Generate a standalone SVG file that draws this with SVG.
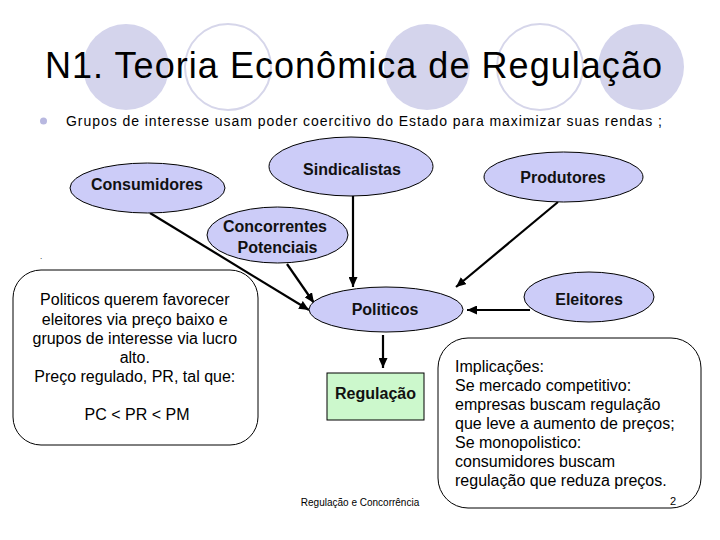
<svg xmlns="http://www.w3.org/2000/svg" width="720" height="540" viewBox="0 0 720 540">
<defs>
<style>
.deco-fill{fill:#D4D4EC;stroke:none}
.deco-ring{fill:none;stroke:#D6D6EA;stroke-width:2}
.node{fill:#CCCCF8;stroke:#000;stroke-width:1}
.reg{fill:#CCF8CC;stroke:#000;stroke-width:1}
.box{fill:#fff;stroke:#000;stroke-width:1}
.lbl{font-family:"Liberation Sans",Arial,sans-serif;font-size:16px;font-weight:bold;fill:#111;text-anchor:middle}
.body{font-family:"Liberation Sans",Arial,sans-serif;font-size:16px;fill:#000}
.conn{stroke:#000;stroke-width:2.2;fill:none}
</style>
<marker id="ah" markerUnits="userSpaceOnUse" markerWidth="11" markerHeight="9" refX="10" refY="4.5" orient="auto">
<path d="M0,0 L10,4.5 L0,9 z" fill="#000"/>
</marker>
</defs>
<rect width="720" height="540" fill="#fff"/>
<g id="decoration">
<circle class="deco-fill" cx="126" cy="67" r="43"/>
<circle class="deco-ring" cx="228" cy="67" r="43"/>
<circle class="deco-fill" cx="427" cy="67" r="43"/>
<circle class="deco-ring" cx="540" cy="67" r="43"/>
<circle class="deco-fill" cx="641" cy="67" r="43"/>
</g>
<text x="45" y="78" font-family="Liberation Sans, Arial, sans-serif" font-size="36" textLength="617" fill="#000">N1. Teoria Econômica de Regulação</text>
<circle cx="43.5" cy="121" r="3.5" fill="#B8B8E0"/>
<text x="66" y="126" font-family="Liberation Sans, Arial, sans-serif" font-size="14" textLength="596" fill="#000">Grupos de interesse usam poder coercitivo do Estado para maximizar suas rendas ;</text>
<g id="connectors">
<line class="conn" x1="150" y1="213" x2="309" y2="310" marker-end="url(#ah)"/>
<line class="conn" x1="287" y1="264" x2="314" y2="303" marker-end="url(#ah)"/>
<line class="conn" x1="353" y1="196" x2="353" y2="287" marker-end="url(#ah)"/>
<line class="conn" x1="558" y1="202" x2="456" y2="287" marker-end="url(#ah)"/>
<line class="conn" x1="530" y1="310" x2="467" y2="310" marker-end="url(#ah)"/>
<line class="conn" x1="383" y1="335" x2="383" y2="368" marker-end="url(#ah)"/>
</g>
<g id="consumidores">
<ellipse class="node" cx="147.5" cy="188" rx="77.5" ry="25"/>
<text class="lbl" x="147" y="190">Consumidores</text>
</g>
<g id="sindicalistas">
<ellipse class="node" cx="351" cy="166.5" rx="82" ry="29.5"/>
<text class="lbl" x="352" y="175">Sindicalistas</text>
</g>
<g id="concorrentes">
<ellipse class="node" cx="277.5" cy="235" rx="70.5" ry="28"/>
<text class="lbl" x="275" y="232">Concorrentes</text>
<text class="lbl" x="277.5" y="253">Potenciais</text>
</g>
<g id="produtores">
<ellipse class="node" cx="563.5" cy="177" rx="79.5" ry="25"/>
<text class="lbl" x="563" y="183">Produtores</text>
</g>
<g id="eleitores">
<ellipse class="node" cx="589" cy="297" rx="65" ry="25"/>
<text class="lbl" x="589" y="305">Eleitores</text>
</g>
<g id="politicos">
<ellipse class="node" cx="386" cy="309.5" rx="77" ry="22.5"/>
<text class="lbl" x="385" y="315">Politicos</text>
</g>
<g id="regulacao">
<rect class="reg" x="327" y="373" width="97" height="47"/>
<text class="lbl" x="375.5" y="399">Regulação</text>
</g>
<text x="40" y="259" font-family="Liberation Sans, Arial, sans-serif" font-size="8" fill="#000">.</text>
<g id="box-politicos">
<rect class="box" x="13" y="270" width="245" height="175" rx="28" ry="28"/>
<text class="body" text-anchor="middle">
<tspan x="137" y="305">Politicos querem favorecer</tspan>
<tspan x="137" y="325">eleitores via preço baixo e</tspan>
<tspan x="137" y="344">grupos de interesse via lucro</tspan>
<tspan x="137" y="363">alto.</tspan>
<tspan x="137" y="382">Preço regulado, PR, tal que:</tspan>
<tspan x="137" y="420">PC &lt; PR &lt; PM</tspan>
</text>
</g>
<g id="box-implicacoes">
<rect class="box" x="438" y="338" width="263" height="170" rx="30" ry="30"/>
<text class="body">
<tspan x="455" y="372">Implicações:</tspan>
<tspan x="455" y="391">Se mercado competitivo:</tspan>
<tspan x="455" y="410">empresas buscam regulação</tspan>
<tspan x="455" y="429">que leve a aumento de preços;</tspan>
<tspan x="455" y="448">Se monopolistico:</tspan>
<tspan x="455" y="467">consumidores buscam</tspan>
<tspan x="455" y="486">regulação que reduza preços.</tspan>
</text>
</g>
<text x="673" y="505" font-family="Liberation Sans, Arial, sans-serif" font-size="11" text-anchor="middle" fill="#000">2</text>
<text x="360" y="506" font-family="Liberation Sans, Arial, sans-serif" font-size="10" text-anchor="middle" fill="#000">Regulação e Concorrência</text>
</svg>
